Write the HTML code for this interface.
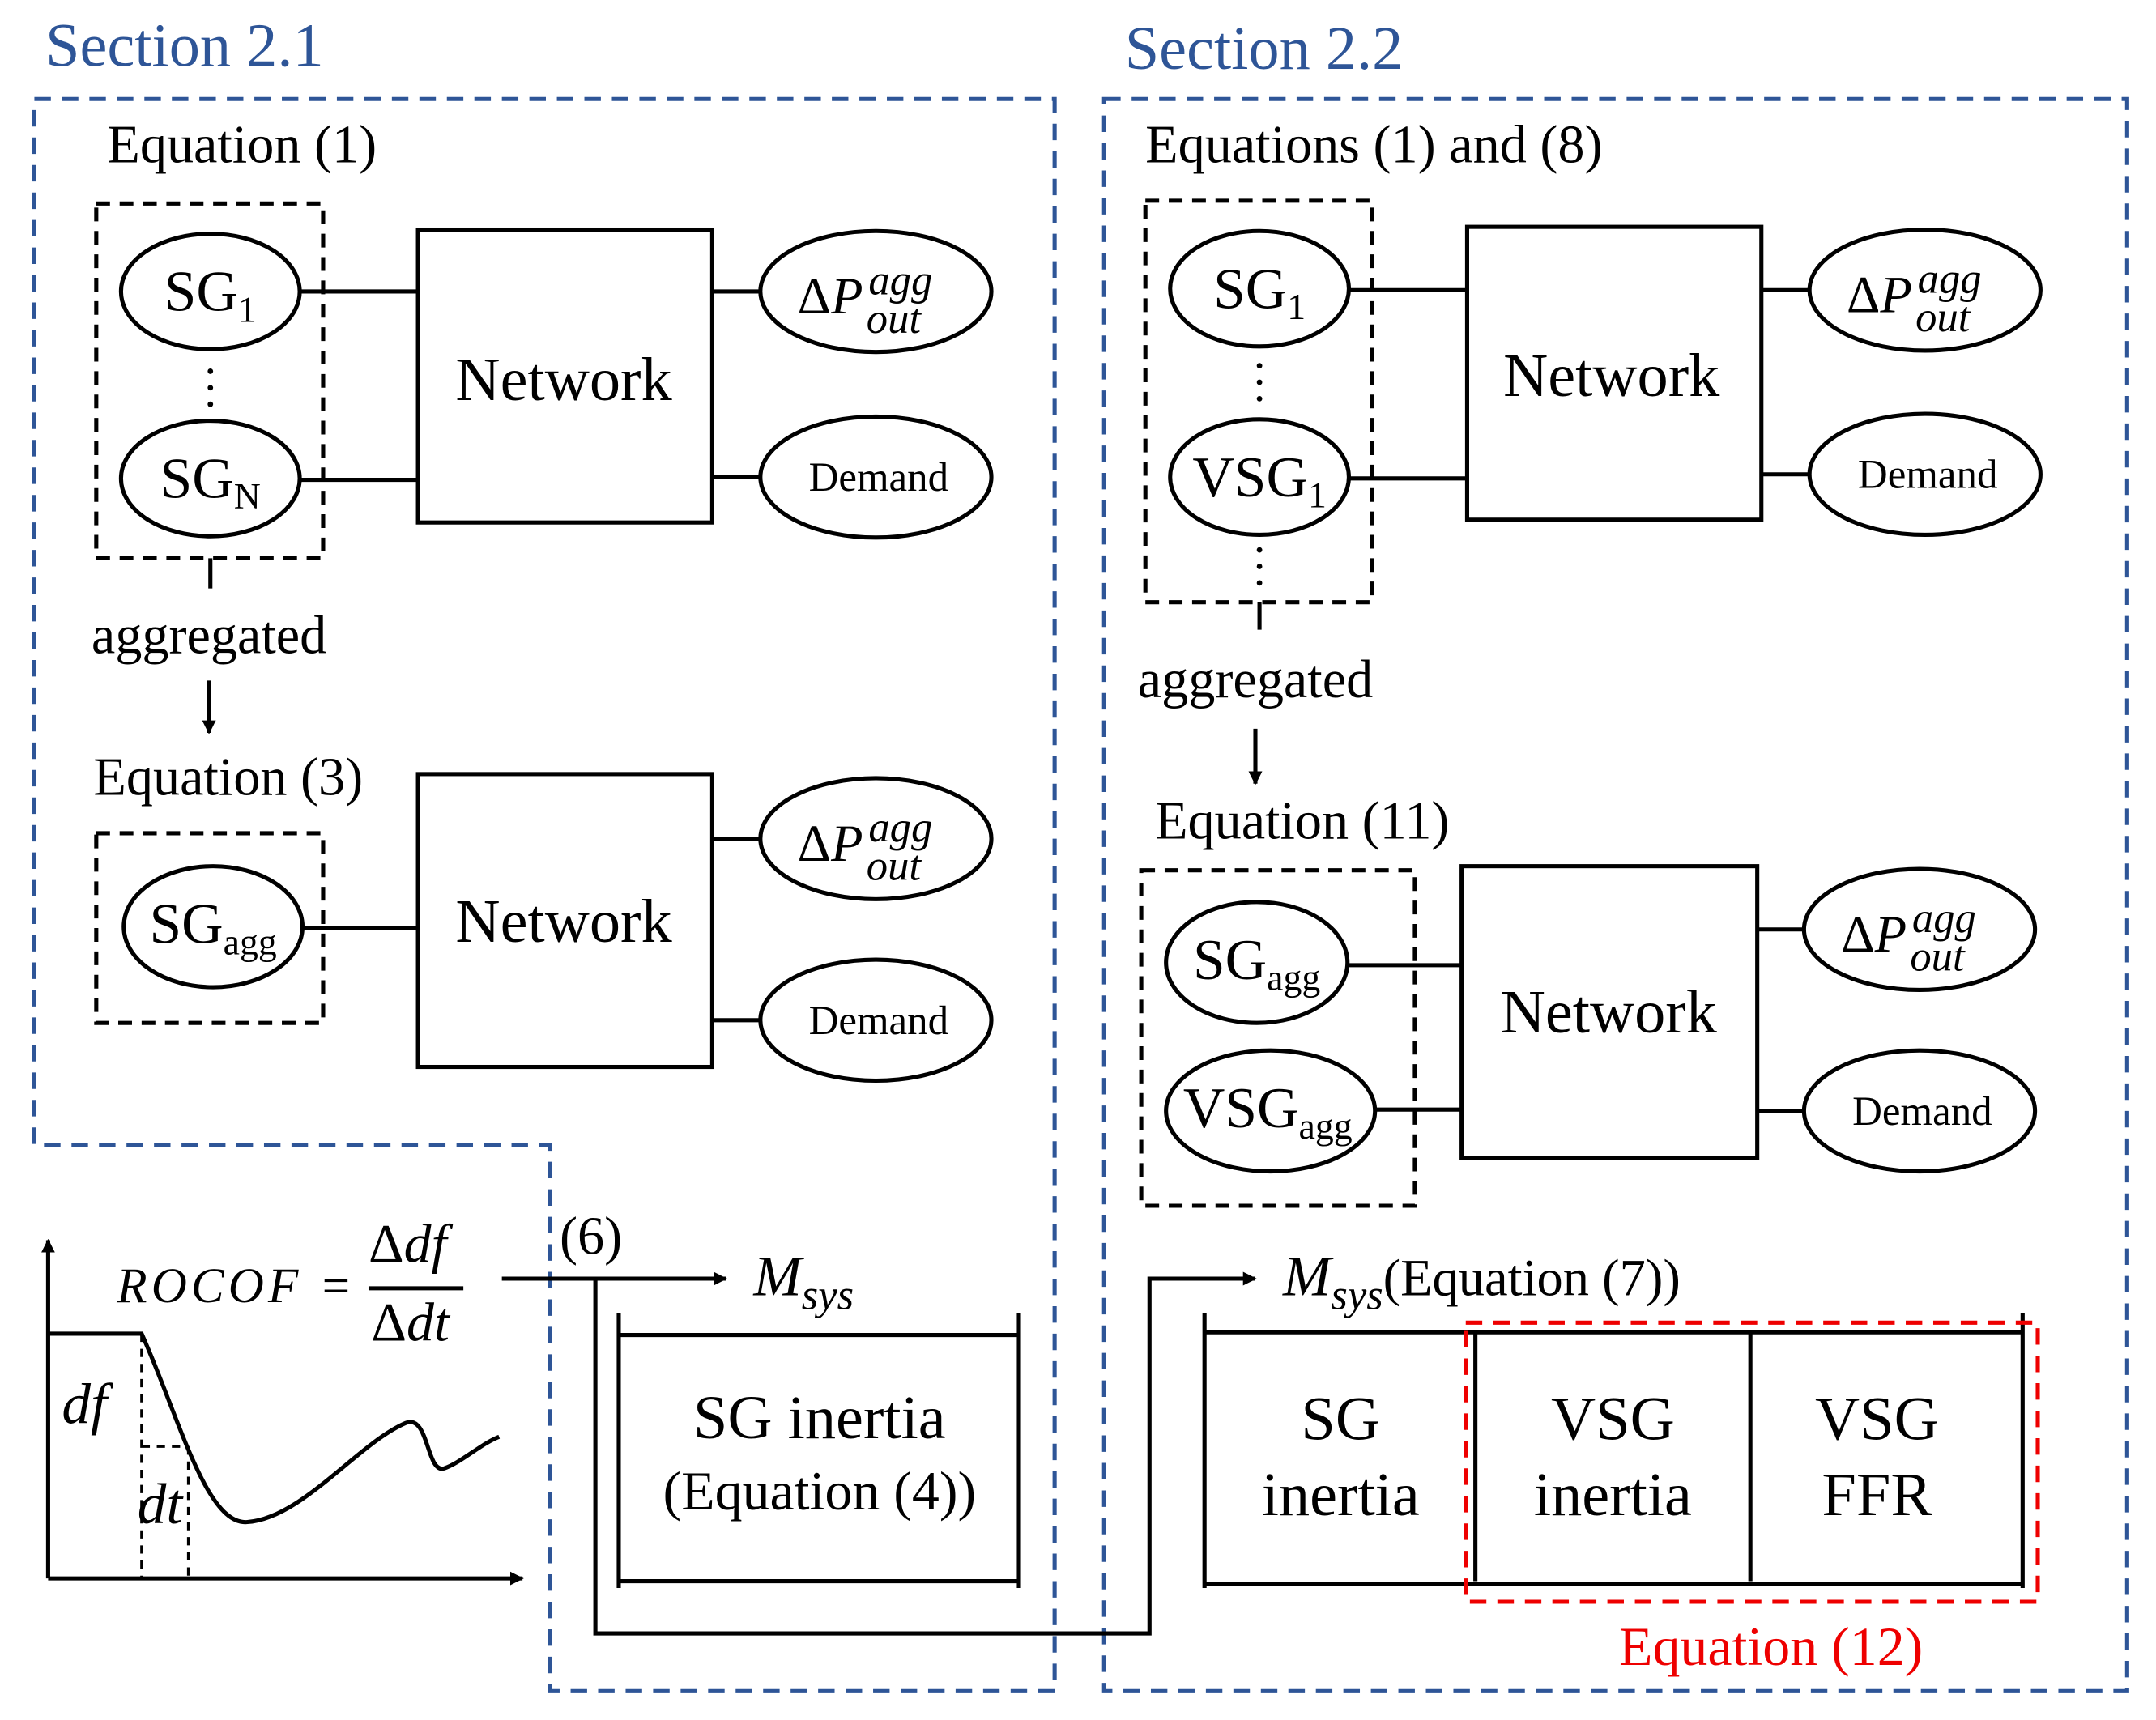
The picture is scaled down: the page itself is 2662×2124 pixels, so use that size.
<!DOCTYPE html>
<html><head><meta charset="utf-8"><style>html,body{margin:0;padding:0;background:#fff}svg{display:block}text{font-family:"Liberation Serif",serif;fill:#000}</style></head>
<body>
<svg width="2662" height="2124" viewBox="0 0 1568 1251" preserveAspectRatio="none" xmlns="http://www.w3.org/2000/svg">
<defs><marker id="ar" markerWidth="10" markerHeight="10" refX="9" refY="5" orient="auto" markerUnits="userSpaceOnUse"><path d="M0,0 L10,5 L0,10 z" fill="#000"/></marker></defs>
<g fill="none" stroke="#2e5597" stroke-width="3" stroke-dasharray="12,8">
<path d="M25,72 H767 V1230 H400 V833 H25 Z"/>
<rect x="803" y="72" width="744" height="1158"/>
</g>
<text x="33" y="48" font-size="45" style="fill:#2e5597">Section 2.1</text>
<text x="818" y="50" font-size="45" style="fill:#2e5597">Section 2.2</text>
<g fill="none" stroke="#000" stroke-width="3">
<g stroke-dasharray="10,7">
<rect x="70" y="148" width="165" height="258"/>
<rect x="70" y="606" width="165" height="138"/>
<rect x="833" y="146" width="165" height="292"/>
<rect x="830" y="633" width="199" height="244"/>
</g>
<ellipse cx="153" cy="212" rx="65" ry="42"/><ellipse cx="153" cy="348" rx="65" ry="42"/>
<ellipse cx="155" cy="674" rx="65" ry="44"/>
<ellipse cx="916" cy="210" rx="65" ry="42"/><ellipse cx="916" cy="347" rx="65" ry="42"/>
<ellipse cx="914" cy="700" rx="66" ry="44"/><ellipse cx="924" cy="808" rx="76" ry="44"/>
<ellipse cx="637" cy="212" rx="84" ry="44"/><ellipse cx="637" cy="347" rx="84" ry="44"/>
<ellipse cx="637" cy="610" rx="84" ry="44"/><ellipse cx="637" cy="742" rx="84" ry="44"/>
<ellipse cx="1400" cy="211" rx="84" ry="44"/><ellipse cx="1400" cy="345" rx="84" ry="44"/>
<ellipse cx="1396" cy="676" rx="84" ry="44"/><ellipse cx="1396" cy="808" rx="84" ry="44"/>
<rect x="304" y="167" width="214" height="213"/><rect x="304" y="563" width="214" height="213"/>
<rect x="1067" y="165" width="214" height="213"/><rect x="1063" y="630" width="215" height="212"/>
<path d="M218,212H304M218,349H304M518,212H553M518,347H553M220,675H304M518,610H553M518,742H553"/>
<path d="M981,211H1067M981,348H1067M1281,211H1316M1281,345H1316M980,702H1063M1000,807H1063M1278,676H1312M1278,808H1312"/>
<path d="M153,406V428M916,438V458"/>
<path d="M152,495V533" marker-end="url(#ar)"/>
<path d="M913,530V570" marker-end="url(#ar)"/>
<path d="M35,1148V902" marker-end="url(#ar)"/>
<path d="M35,1148H380" marker-end="url(#ar)"/>
<path d="M35,970H103 C130,1030 150,1110 180,1107 C220,1104 260,1050 295,1035 C312,1028 310,1072 323,1068 C335,1064 350,1050 363,1045"/>
<path d="M103,970V1148M137,1052V1148M103,1052H137" stroke-width="2" stroke-dasharray="6,5"/>
<path d="M268,937H337"/>
<path d="M365,930H528" marker-end="url(#ar)"/>
<path d="M433,930V1188H836V930H913" marker-end="url(#ar)"/>
<path d="M450,971H741M450,1150H741M450,955V1155M741,955V1155"/>
<path d="M876,969H1472M876,1152H1472M876,955V1155M1073,969V1150M1273,969V1150M1471,955V1155"/>
<rect x="1066" y="962" width="416" height="203" stroke="#e00" stroke-dasharray="12,8"/>
</g>
<g fill="#000"><circle cx="153" cy="270" r="2"/><circle cx="153" cy="282" r="2"/><circle cx="153" cy="294" r="2"/>
<circle cx="916" cy="266" r="2"/><circle cx="916" cy="278" r="2"/><circle cx="916" cy="290" r="2"/>
<circle cx="916" cy="400" r="2"/><circle cx="916" cy="412" r="2"/><circle cx="916" cy="424" r="2"/></g>
<g font-size="39">
<text x="78" y="118">Equation (1)</text>
<text x="68" y="578">Equation (3)</text>
<text x="833" y="118">Equations (1) and (8)</text>
<text x="840" y="610">Equation (11)</text>
<text x="152" y="475" text-anchor="middle">aggregated</text>
<text x="913" y="507" text-anchor="middle">aggregated</text>
<text x="407" y="912">(6)</text>
</g>
<g font-size="45" text-anchor="middle">
<text x="410" y="291">Network</text><text x="410" y="685">Network</text>
<text x="1172" y="288">Network</text><text x="1170" y="751">Network</text>
</g>
<g font-size="42" text-anchor="middle">
<text x="153" y="226">SG<tspan font-size="27" dy="8">1</tspan></text>
<text x="153" y="362">SG<tspan font-size="27" dy="8">N</tspan></text>
<text x="155" y="686">SG<tspan font-size="27" dy="8">agg</tspan></text>
<text x="916" y="224">SG<tspan font-size="27" dy="8">1</tspan></text>
<text x="916" y="361">VSG<tspan font-size="27" dy="8">1</tspan></text>
<text x="914" y="712">SG<tspan font-size="27" dy="8">agg</tspan></text>
<text x="922" y="820">VSG<tspan font-size="27" dy="8">agg</tspan></text>
</g>
<g font-size="30" text-anchor="middle">
<text x="639" y="357">Demand</text><text x="639" y="752">Demand</text>
<text x="1402" y="355">Demand</text><text x="1398" y="818">Demand</text>
</g>
<g font-size="38" font-style="italic">
<text x="580" y="228"><tspan font-style="normal">Δ</tspan>P<tspan font-size="31" dx="4" dy="-14">agg</tspan><tspan font-size="31" dx="-48" dy="28">out</tspan></text>
<text x="580" y="626"><tspan font-style="normal">Δ</tspan>P<tspan font-size="31" dx="4" dy="-14">agg</tspan><tspan font-size="31" dx="-48" dy="28">out</tspan></text>
<text x="1343" y="227"><tspan font-style="normal">Δ</tspan>P<tspan font-size="31" dx="4" dy="-14">agg</tspan><tspan font-size="31" dx="-48" dy="28">out</tspan></text>
<text x="1339" y="692"><tspan font-style="normal">Δ</tspan>P<tspan font-size="31" dx="4" dy="-14">agg</tspan><tspan font-size="31" dx="-48" dy="28">out</tspan></text>
<text x="85" y="947" font-size="36" letter-spacing="3">ROCOF =</text>
<text x="268" y="918" font-size="40"><tspan font-style="normal">Δ</tspan>df</text>
<text x="270" y="975" font-size="40"><tspan font-style="normal">Δ</tspan>dt</text>
<text x="45" y="1035" font-size="42">df</text>
<text x="100" y="1108" font-size="42">dt</text>
<text x="548" y="942" font-size="42">M<tspan font-size="31" dy="10">sys</tspan></text>
<text x="933" y="942" font-size="42">M<tspan font-size="31" dy="10">sys</tspan><tspan font-style="normal" font-size="38" dy="-10">(Equation (7))</tspan></text>
</g>
<g text-anchor="middle">
<text x="596" y="1046" font-size="45">SG inertia</text>
<text x="596" y="1098" font-size="40">(Equation (4))</text>
<g font-size="45">
<text x="975" y="1047">SG</text><text x="975" y="1102">inertia</text>
<text x="1173" y="1047">VSG</text><text x="1173" y="1102">inertia</text>
<text x="1365" y="1047">VSG</text><text x="1365" y="1102">FFR</text>
</g>
<text x="1288" y="1211" font-size="40" style="fill:#e00">Equation (12)</text>
</g>
</svg>
</body></html>
